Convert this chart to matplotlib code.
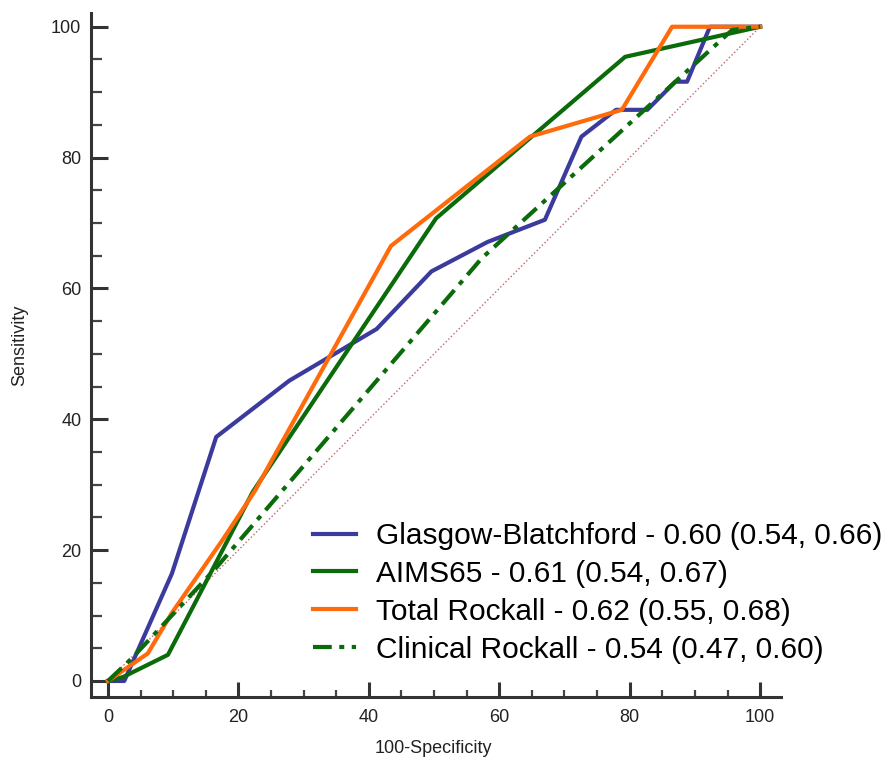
import numpy as np
import matplotlib.pyplot as plt
from matplotlib.ticker import MultipleLocator

plt.rcParams['font.family'] = ['Liberation Sans', 'DejaVu Sans']

# ROC points (100-Specificity, Sensitivity)
gb_x = [0, 2.5, 9.8, 16.6, 27.8, 41.2, 49.6, 58.2, 67, 72.6, 77.9, 82.7, 87, 88.8, 92.3, 100]
gb_y = [0, 0, 16.4, 37.3, 45.9, 53.8, 62.6, 67.1, 70.5, 83.2, 87.3, 87.3, 91.6, 91.6, 100, 100]

aims_x = [0, 2.3, 9.2, 13.6, 22.2, 50.3, 79.3, 100]
aims_y = [0, 0.6, 4, 12.4, 28.9, 70.7, 95.4, 100]

tr_x = [0, 6.1, 9.8, 17.6, 22.5, 43.4, 64.7, 78.8, 86.5, 100]
tr_y = [0, 4.2, 10.4, 21.6, 29, 66.5, 83.2, 87.3, 100, 100]

cr_x = [0, 3.7, 16.5, 57.3, 95.7, 100]
cr_y = [0, 3.5, 17.2, 64.6, 99.5, 100]

labels = ['Glasgow-Blatchford - 0.60 (0.54, 0.66)',
          'AIMS65 - 0.61 (0.54, 0.67)',
          'Total Rockall - 0.62 (0.55, 0.68)',
          'Clinical Rockall - 0.54 (0.47, 0.60)']

fig = plt.figure(figsize=(8.91, 7.58), dpi=100)
ax = fig.add_axes([91/891, 1-697/758, (781-91)/891, (697-13)/758])

ax.plot([0, 100], [0, 100], ls=':', color='#b86a6a', lw=1.0)
ax.plot(gb_x, gb_y, color='#3b3b9e', lw=3, label=labels[0])
ax.plot(aims_x, aims_y, color='#0b6b0b', lw=3, label=labels[1])
ax.plot(tr_x, tr_y, color='#ff6a0a', lw=3, label=labels[2])
ax.plot(cr_x, cr_y, color='#0b6b0b', lw=3, ls=(0, (4.5, 1.8, 1.2, 1.8)),
        label=labels[3])

ax.set_xlim(-2.6, 103.2)
ax.set_ylim(-2.45, 102.1)
ax.xaxis.set_major_locator(MultipleLocator(20))
ax.yaxis.set_major_locator(MultipleLocator(20))
ax.xaxis.set_minor_locator(MultipleLocator(5))
ax.yaxis.set_minor_locator(MultipleLocator(5))

for s in ['top', 'right']:
    ax.spines[s].set_visible(False)
for s in ['left', 'bottom']:
    ax.spines[s].set_linewidth(2.2)
    ax.spines[s].set_color('#333333')

ax.tick_params(axis='both', which='major', direction='in', width=2.2,
               color='#333333', labelsize=13, labelcolor='#222222')
ax.tick_params(axis='y', which='major', length=12, pad=7)
ax.tick_params(axis='x', which='major', length=11, pad=9)
ax.tick_params(axis='y', which='minor', direction='in', length=8, width=1.6, color='#444444')
ax.tick_params(axis='x', which='minor', direction='in', length=5, width=1.6, color='#444444')

ax.set_xlabel('100-Specificity', fontsize=13, color='#222222')
ax.set_ylabel('Sensitivity', fontsize=13, color='#222222')
ax.xaxis.set_label_coords((433-91)/690, -(740-697)/684)
ax.yaxis.set_label_coords(-(91-28)/690, (697-345)/684)

leg = ax.legend(loc='upper left', bbox_to_anchor=((313-91)/690, (697-522)/684),
                frameon=False, fontsize=21.5, handlelength=1.45, handletextpad=0.65,
                labelspacing=0.33, borderaxespad=0, borderpad=0)

fig.savefig('out.png', dpi=100)
